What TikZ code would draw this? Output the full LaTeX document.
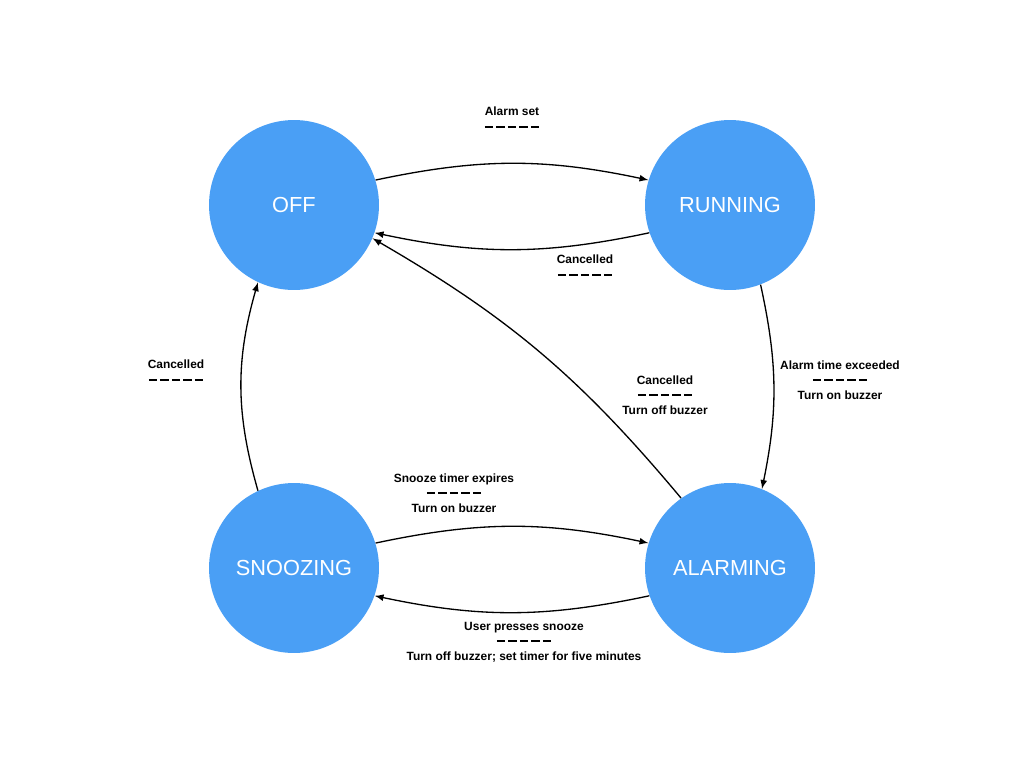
\documentclass[tikz,border=0pt]{standalone}
\usepackage{fontspec}
\setmainfont{Liberation Sans}
\usepackage{tikz}
\usetikzlibrary{arrows}
\definecolor{stateblue}{HTML}{4A9FF5}
\tikzstyle{state}=[circle, fill=stateblue, text=white, minimum size=3.4cm, inner sep=0pt, font=\fontsize{12.4}{14}\selectfont]
\tikzstyle{lbl}=[align=center, inner sep=0pt, font=\bfseries\fontsize{6.8}{8.5}\selectfont]
\tikzset{trans/.style={->, >=latex, line width=0.75pt}}
\newcommand{\dashseg}{\rule[0.5ex]{0.165cm}{0.042cm}}
\newcommand{\dashrow}{\dashseg\hspace{0.065cm}\dashseg\hspace{0.065cm}\dashseg\hspace{0.065cm}\dashseg\hspace{0.065cm}\dashseg}

\begin{document}
\begin{tikzpicture}[x=0.02cm, y=-0.02cm]
		\useasboundingbox (0,0) rectangle (1024,768);
		\node[state] (off) at (294,205) {OFF};
		\node[state] (running) at (730,205) {RUNNING};
		\node[state] (snoozing) at (294,568) {SNOOZING};
		\node[state] (alarming) at (730,568) {ALARMING};
		\draw[trans] (off.17) to[bend left=12] (running.163);
		\draw[trans] (running.199) to[bend left=12] (off.341);
		\draw[trans] (running.291) to[bend left=12] (alarming.68);
		\draw[trans] (alarming.125) to[bend right=10] (off.337);
		\draw[trans] (snoozing.115) to[bend left=16] (off.245);
		\draw[trans] (snoozing.17) to[bend left=12] (alarming.163);
		\draw[trans] (alarming.199) to[bend left=12] (snoozing.341);
		\node[lbl] (setlbl) at (512,119) {Alarm set\\\dashrow};
		\node[lbl] (cancel1) at (585,267) {Cancelled\\\dashrow};
		\node[lbl] (exceed) at (840,380) {Alarm time exceeded\\\dashrow\\Turn on buzzer};
		\node[lbl] (cancel2) at (665,395) {Cancelled\\\dashrow\\Turn off buzzer};
		\node[lbl] (expire) at (454,493) {Snooze timer expires\\\dashrow\\Turn on buzzer};
		\node[lbl] (press) at (524,642) {User presses snooze\\\dashrow\\Turn off buzzer; set timer for five minutes};
		\node[lbl] (cancel3) at (176,372) {Cancelled\\\dashrow};
\end{tikzpicture}
\end{document}
